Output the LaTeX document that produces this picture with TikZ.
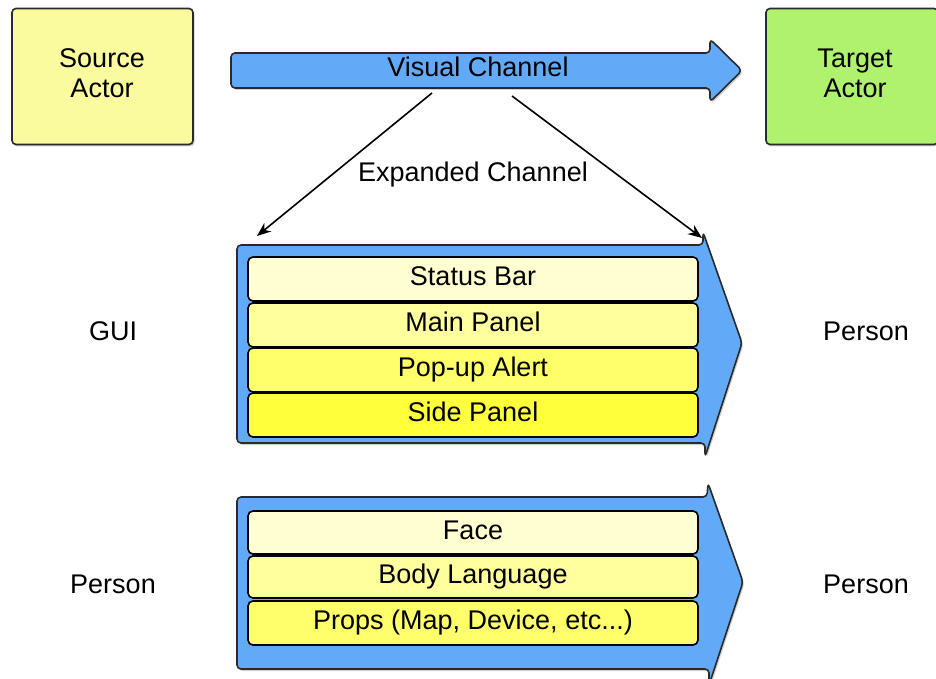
\documentclass[tikz,border=0pt]{standalone}
\usepackage{fontspec}
\setmainfont{Liberation Sans}
\usetikzlibrary{arrows.meta,shadows}
\definecolor{chblue}{HTML}{62AAF8}
\definecolor{srcyel}{HTML}{FAFA9E}
\definecolor{tgtgrn}{HTML}{AEF26E}
\definecolor{yA}{HTML}{FFFFD2}
\definecolor{yB}{HTML}{FFFF9E}
\definecolor{yC}{HTML}{FFFF6C}
\definecolor{yD}{HTML}{FFFF3C}
\definecolor{edge}{HTML}{2A2A2A}
\tikzset{
  sh/.style={drop shadow={shadow xshift=1.5pt,shadow yshift=-2pt,fill=black!40,opacity=0.45}},
  actor/.style={draw=edge,line width=1.6pt,rounded corners=4pt,minimum width=181pt,minimum height=136pt,align=center,font=\fontsize{27}{32}\selectfont,sh},
  bigarrow/.style={draw=edge,line width=1.6pt,fill=chblue,rounded corners=4pt,line join=round,sh},
  layer/.style={draw=black,line width=1.6pt,rounded corners=5pt,minimum width=450pt,text height=21pt,text depth=8pt,font=\fontsize{27}{30}\selectfont},
  lbl/.style={font=\fontsize{27}{30}\selectfont},
  conn/.style={line width=1.6pt,-{Stealth[length=14pt,width=11pt]}}
}
\begin{document}
\begin{tikzpicture}[x=1pt,y=-1pt]
\useasboundingbox (0,0) rectangle (936,679);
% actors
\node[actor,fill=srcyel] (src) at (102.5,76.5) {};
\node[lbl,align=center] (srct) at (102,73) {Source\\Actor};
\node[actor,fill=tgtgrn,minimum width=172pt] (tgt) at (852,76.5) {};
\node[lbl,align=center] (tgtt) at (855,73) {Target\\Actor};
% visual channel arrow
\draw[bigarrow] (231,53) -- (710,53) -- (710,39) -- (742,70.5) -- (710,102) -- (710,88) -- (231,88) -- cycle;
\node[lbl] (vis) at (478,67) {Visual Channel};
\coordinate (vl) at (432,93);
\coordinate (vr) at (512,96);
% channel 1
\draw[bigarrow] (237,245) -- (703,245) -- (703,232) -- (742,343) -- (705,457) -- (705,443) -- (237,443) -- cycle;
\coordinate (c1l) at (257,236);
\coordinate (c1r) at (702,238);
\node[layer,fill=yA,minimum height=44pt] (sb) at (473,279) {Status Bar};
\node[layer,fill=yB,minimum height=44pt] (mp) at (473,325) {Main Panel};
\node[layer,fill=yC,minimum height=44pt] (pa) at (473,370) {Pop-up Alert};
\node[layer,fill=yD,minimum height=44pt] (sp) at (473,415) {Side Panel};
% channel 2
\draw[bigarrow] (237,497) -- (707,497) -- (708,483) -- (743,582) -- (709,685) -- (709,669) -- (237,669) -- cycle;
\node[layer,fill=yA,minimum height=43pt] (fc) at (473,532.5) {Face};
\node[layer,fill=yB,minimum height=42pt] (bl) at (473,577) {Body Language};
\node[layer,fill=yC,minimum height=44pt] (pr) at (473,623) {Props (Map, Device, etc...)};
% expanded channel connectors
\draw[conn] (vl) -- (c1l);
\draw[conn] (vr) -- (c1r);
\node[lbl] (exp) at (473,175) {Expanded Channel};
% side labels
\node[lbl] (gui) at (113,331) {GUI};
\node[lbl] (p1) at (866,331) {Person};
\node[lbl] (p2) at (113,584) {Person};
\node[lbl] (p3) at (866,584) {Person};
\end{tikzpicture}
\end{document}
